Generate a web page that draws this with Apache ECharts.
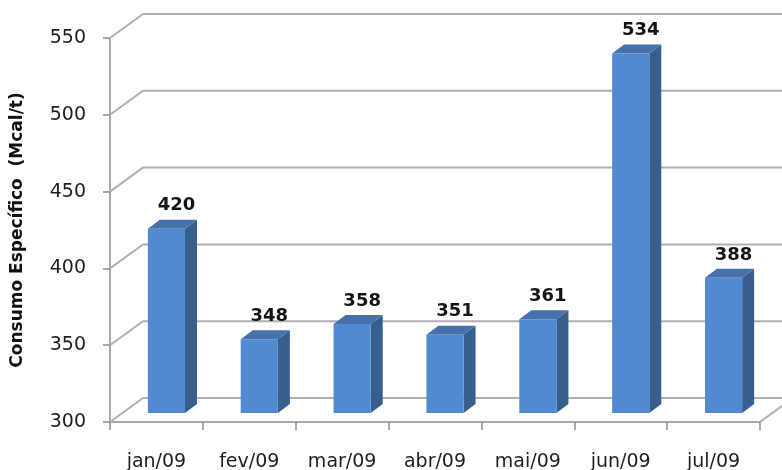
<!DOCTYPE html>
<html>
<head>
<meta charset="utf-8">
<script src="https://cdn.jsdelivr.net/npm/echarts@6.0.0/dist/echarts.min.js"></script>
<style>
  html, body { margin: 0; padding: 0; background: #ffffff; }
  #chart { width: 782px; height: 470px; }
</style>
</head>
<body>
<div id="chart"></div>
<script>
// Monthly specific consumption (Mcal/t)
const months = ['jan/09', 'fev/09', 'mar/09', 'abr/09', 'mai/09', 'jun/09', 'jul/09'];
const consumo = [420, 348, 358, 351, 361, 534, 388];
const yTicks = [300, 350, 400, 450, 500, 550];
const yTitle = 'Consumo Específico  (Mcal/t)';

// pseudo-3D geometry (pixels)
const WALL_DEPTH = [33, -24];   // front plane -> back wall
const BAR_SHIFT = [10, -9];     // front plane -> bar front face
const BAR_DEPTH = [12, -9];     // bar front face -> bar back face
const BAR_WIDTH_RATIO = 0.4;

const FRONT = '#5189d2';
const SIDE = '#385e8e';
const TOP = '#4671aa';
const GRID = '#b0b0b0';
const AXIS = '#8c8c8c';

const chart = echarts.init(document.getElementById('chart'));

// back wall gridlines with their diagonals on the side wall
function renderWalls(params, api) {
  const v = api.value(1);
  const p = api.coord([0, v]);
  const cs = params.coordSys;
  const x0 = cs.x;
  const y = p[1];
  const children = [{
    type: 'polyline',
    shape: {
      points: [
        [x0, y],
        [x0 + WALL_DEPTH[0], y + WALL_DEPTH[1]],
        [x0 + cs.width + WALL_DEPTH[0] + 40, y + WALL_DEPTH[1]]
      ]
    },
    style: { stroke: GRID, lineWidth: 2, fill: null }
  }];
  if (v === yTicks[0]) {
    const xr = x0 + cs.width;
    children.push({
      type: 'line',
      shape: { x1: xr, y1: y, x2: xr + WALL_DEPTH[0], y2: y + WALL_DEPTH[1] },
      style: { stroke: GRID, lineWidth: 2 }
    });
  }
  return { type: 'group', children: children };
}

function renderBars(params, api) {
  const i = api.value(0);
  const v = api.value(1);
  const top = api.coord([i, v]);
  const base = api.coord([i, yTicks[0]]);
  const w = api.size([1, 0])[0] * BAR_WIDTH_RATIO;
  const cx = top[0] + BAR_SHIFT[0];
  const x1 = cx - w / 2, x2 = cx + w / 2;
  const yt = top[1] + BAR_SHIFT[1];
  const yb = base[1] + BAR_SHIFT[1];
  const dx = BAR_DEPTH[0], dy = BAR_DEPTH[1];
  return {
    type: 'group',
    children: [
      {
        type: 'polygon',
        shape: { points: [[x2, yt], [x2 + dx, yt + dy], [x2 + dx, yb + dy], [x2, yb]] },
        style: { fill: SIDE }
      },
      {
        type: 'polygon',
        shape: { points: [[x1, yt], [x1 + dx, yt + dy], [x2 + dx, yt + dy], [x2, yt]] },
        style: { fill: TOP }
      },
      {
        type: 'rect',
        shape: { x: x1, y: yt, width: w, height: yb - yt },
        style: { fill: FRONT }
      },
      {
        type: 'text',
        style: {
          text: String(v),
          x: cx + 10,
          y: yt - 23,
          align: 'center',
          verticalAlign: 'middle',
          fontFamily: 'DejaVu Sans',
          fontWeight: 'bold',
          fontSize: 18,
          fill: '#141414'
        }
      }
    ]
  };
}

chart.setOption({
  animation: false,
  backgroundColor: '#ffffff',
  grid: { left: 110, right: 22, top: 38, bottom: 48, containLabel: false, outerBoundsMode: 'none' },
  xAxis: {
    type: 'category',
    data: months,
    boundaryGap: true,
    axisLine: { show: true, lineStyle: { color: AXIS, width: 1.5 } },
    axisTick: { show: true, length: 8, alignWithLabel: false, lineStyle: { color: AXIS, width: 1.5 } },
    axisLabel: {
      margin: 31,
      color: '#1e1e1e',
      fontFamily: 'DejaVu Sans',
      fontSize: 19,
      interval: 0
    },
    splitLine: { show: false }
  },
  yAxis: {
    type: 'value',
    min: yTicks[0],
    max: yTicks[yTicks.length - 1],
    interval: 50,
    name: yTitle,
    nameLocation: 'middle',
    nameGap: 84,
    nameRotate: 90,
    nameTextStyle: {
      fontFamily: 'DejaVu Sans',
      fontWeight: 'bold',
      fontSize: 17,
      color: '#111111'
    },
    axisLine: { show: true, lineStyle: { color: AXIS, width: 1.5 } },
    axisTick: { show: true, length: 7, lineStyle: { color: AXIS, width: 1.5 } },
    axisLabel: {
      margin: 24,
      color: '#1e1e1e',
      fontFamily: 'DejaVu Sans',
      fontSize: 19
    },
    splitLine: { show: false }
  },
  series: [
    {
      type: 'custom',
      z: 1,
      silent: true,
      renderItem: renderWalls,
      encode: { x: 0, y: 1 },
      data: yTicks.map(v => [0, v])
    },
    {
      type: 'custom',
      z: 3,
      renderItem: renderBars,
      encode: { x: 0, y: 1 },
      data: consumo.map((v, i) => [i, v])
    }
  ]
});
</script>
</body>
</html>
